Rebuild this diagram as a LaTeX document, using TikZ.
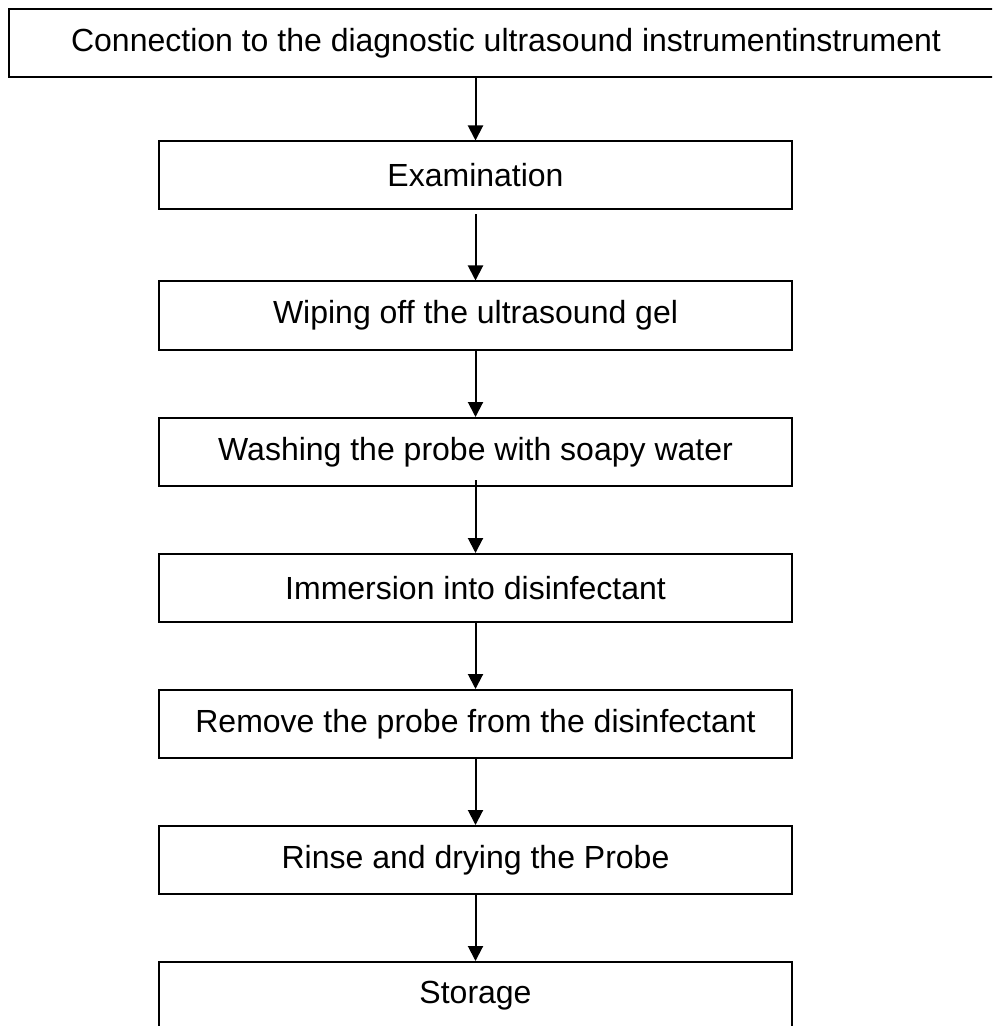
\documentclass[tikz,border=0pt]{standalone}
\usepackage{fontspec}
\setmainfont{Liberation Sans}
\usetikzlibrary{arrows.meta}

\begin{document}
\begin{tikzpicture}[x=0.5pt, y=-0.5pt,
  stepbox/.style={draw, line width=1pt, minimum width=316.5pt, minimum height=34pt,
    inner sep=0pt, font=\fontsize{16}{19}\selectfont},
  flow/.style={-{Triangle[width=7.5pt,length=7.5pt]}, line width=1pt}]
  \useasboundingbox (0, 0) rectangle (992, 1026);
  \clip (0, 0) rectangle (992, 1026);

  \node[stepbox, minimum width=497pt] (connect) at (506, 43) {Connection to the diagnostic ultrasound instrumentinstrument};
  \node[stepbox] (exam) at (475.5, 175.5) {Examination};
  \node[stepbox] (wipe) at (475.5, 315.5) {Wiping off the ultrasound gel};
  \node[stepbox] (wash) at (475.5, 452) {Washing the probe with soapy water};
  \node[stepbox] (immerse) at (475.5, 588) {Immersion into disinfectant};
  \node[stepbox] (remove) at (475.5, 724) {Remove the probe from the disinfectant};
  \node[stepbox] (rinse) at (475.5, 860) {Rinse and drying the Probe};
  \node[stepbox] (store) at (475.5, 996) {Storage};

  \draw[flow] (connect.south -| exam) -- (exam);
  \draw[flow, shorten <=2pt] (exam) -- (wipe);
  \draw[flow] (wipe) -- (wash);
  \draw[flow, shorten <=-3.5pt] (wash) -- (immerse);
  \draw[flow] (immerse) -- (remove);
  \draw[flow] (remove) -- (rinse);
  \draw[flow] (rinse) -- (store);
\end{tikzpicture}
\end{document}
